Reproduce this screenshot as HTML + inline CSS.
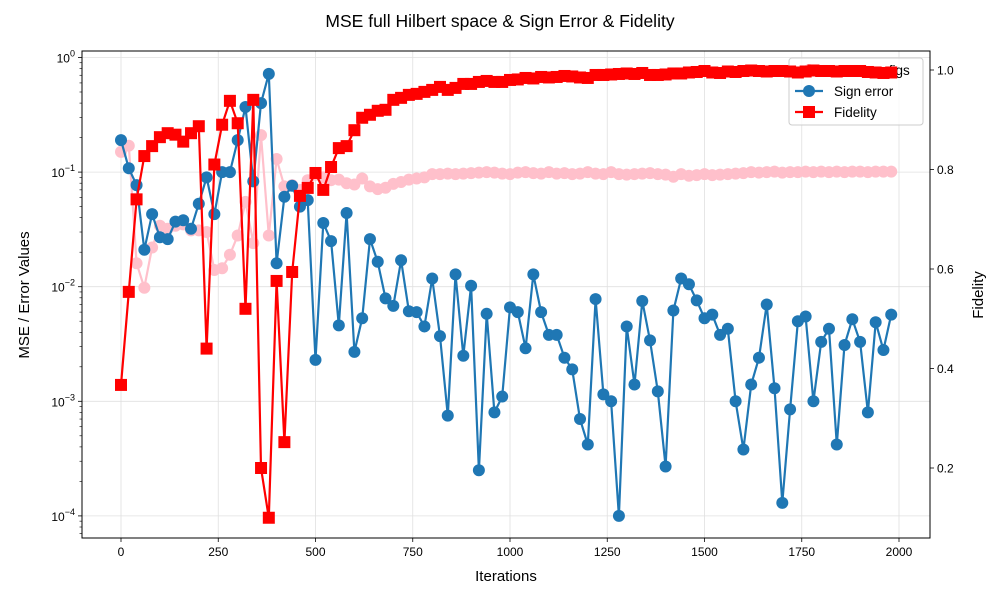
<!DOCTYPE html>
<html><head><meta charset="utf-8"><style>
body{margin:0;background:#fff;}
svg text{font-family:"Liberation Sans","DejaVu Sans",sans-serif;}
</style></head><body>
<svg id="chart" width="1000" height="600" xmlns="http://www.w3.org/2000/svg">
<rect width="1000" height="600" fill="#fff"/>
<text x="500" y="27" font-size="17.5" text-anchor="middle">MSE full Hilbert space &amp; Sign Error &amp; Fidelity</text>
<g id="grid"></g><g id="series"></g><g id="axes"></g>
<text x="506" y="581" font-size="15" text-anchor="middle">Iterations</text>
<text x="29" y="295" font-size="15" text-anchor="middle" transform="rotate(-90 29 295)">MSE / Error Values</text>
<text x="983" y="295" font-size="15" text-anchor="middle" transform="rotate(-90 983 295)">Fidelity</text>
</svg>
<script>
const iterations = Array.from({length:100},(_,i)=>i*20);
const signError = [0.19,0.108,0.077,0.021,0.043,0.027,0.026,0.037,0.038,0.032,0.053,0.09,0.043,0.10,0.10,0.19,0.37,0.083,0.40,0.72,0.016,0.061,0.076,0.05,0.057,0.0023,0.036,0.025,0.0046,0.044,0.0027,0.0053,0.026,0.0165,0.0079,0.0068,0.017,0.0061,0.006,0.0045,0.0118,0.0037,0.00075,0.0128,0.0025,0.0102,0.00025,0.0058,0.0008,0.0011,0.0066,0.006,0.0029,0.0128,0.006,0.0038,0.0038,0.0024,0.0019,0.0007,0.00042,0.0078,0.00115,0.001,0.0001,0.0045,0.0014,0.0075,0.0034,0.00122,0.00027,0.0062,0.0118,0.0105,0.0076,0.0053,0.0057,0.0038,0.0043,0.001,0.00038,0.0014,0.0024,0.007,0.0013,0.00013,0.00085,0.005,0.0055,0.001,0.0033,0.0043,0.00042,0.0031,0.0052,0.0033,0.0008,0.0049,0.0028,0.0057];
const mseConfigs = [0.15,0.17,0.016,0.0098,0.022,0.034,0.032,0.034,0.035,0.031,0.031,0.030,0.014,0.0145,0.019,0.028,0.055,0.024,0.21,0.028,0.13,0.075,0.077,0.07,0.085,0.095,0.09,0.085,0.086,0.08,0.078,0.088,0.075,0.071,0.073,0.079,0.082,0.086,0.088,0.09,0.096,0.096,0.097,0.096,0.097,0.098,0.099,0.1,0.099,0.097,0.096,0.099,0.1,0.098,0.097,0.1,0.097,0.098,0.096,0.097,0.1,0.097,0.096,0.1,0.096,0.095,0.096,0.097,0.098,0.096,0.095,0.091,0.096,0.093,0.094,0.096,0.094,0.095,0.096,0.097,0.098,0.1,0.099,0.1,0.101,0.099,0.1,0.1,0.101,0.1,0.101,0.1,0.101,0.1,0.101,0.101,0.1,0.101,0.101,0.101];
const fidelity = [0.367,0.554,0.74,0.827,0.847,0.865,0.873,0.87,0.856,0.873,0.887,0.44,0.81,0.89,0.938,0.893,0.52,0.94,0.2,0.10,0.576,0.252,0.594,0.747,0.763,0.793,0.759,0.805,0.843,0.847,0.879,0.904,0.91,0.918,0.92,0.94,0.944,0.95,0.952,0.956,0.96,0.966,0.96,0.964,0.972,0.972,0.976,0.978,0.976,0.976,0.98,0.981,0.984,0.983,0.986,0.985,0.986,0.988,0.987,0.985,0.984,0.99,0.99,0.991,0.992,0.993,0.992,0.994,0.99,0.99,0.991,0.993,0.993,0.995,0.996,0.998,0.995,0.994,0.997,0.996,0.998,0.999,0.998,0.997,0.998,0.998,0.997,0.995,0.997,0.999,0.998,0.998,0.997,0.998,0.998,0.998,0.996,0.995,0.994,0.995];
const xTicks = [0,250,500,750,1000,1250,1500,1750,2000];
const yExps = [0,-1,-2,-3,-4];
const fidTicks = [0.2,0.4,0.6,0.8,1.0];

const L=82,R=930,T=51,B=538;
const xs=v=>121+v*(899-121)/2000;
const ys=v=>57.5+(-Math.log10(v))*114.6;
const yf=v=>70+(1-v)*497.5;
const NS='http://www.w3.org/2000/svg';
function mk(tag,attrs,parent){const e=document.createElementNS(NS,tag);for(const k in attrs)e.setAttribute(k,attrs[k]);parent.appendChild(e);return e;}
const grid=document.getElementById('grid'),axes=document.getElementById('axes'),ser=document.getElementById('series');

xTicks.forEach(t=>{const x=xs(t);
 let g=mk('line',{x1:x,x2:x,y1:T,y2:B,stroke:'#e0e0e0','stroke-width':0.8},grid);
 
 let tk=mk('line',{x1:x,x2:x,y1:B,y2:B+4,stroke:'#000','stroke-width':0.8},axes);
 
 let tx=mk('text',{x:x,y:B+18,'font-size':12,'text-anchor':'middle'},axes);tx.textContent=t;
 
});
yExps.forEach(e=>{const y=ys(Math.pow(10,e));
 let g=mk('line',{x1:L,x2:R,y1:y,y2:y,stroke:'#e0e0e0','stroke-width':0.8},grid);
 
 let tk=mk('line',{x1:L-4,x2:L,y1:y,y2:y,stroke:'#000','stroke-width':0.8},axes);
 
 let tx=mk('text',{x:L-7,y:y+5,'font-size':12,'text-anchor':'end'},axes);
 
 tx.innerHTML='10<tspan dy="-6" font-size="9">'+(e<0?'\u2212'+(-e):e)+'</tspan>';
});
for(let e=-5;e<=0;e++)for(let m=2;m<=9;m++){const v=m*Math.pow(10,e),y=ys(v);if(y<T||y>B)continue;
 let tk=mk('line',{x1:L-2.5,x2:L,y1:y,y2:y,stroke:'#000','stroke-width':0.6},axes);
 }
fidTicks.forEach(t=>{const y=yf(t);
 let tk=mk('line',{x1:R,x2:R+4,y1:y,y2:y,stroke:'#000','stroke-width':0.8},axes);
 
 let tx=mk('text',{x:R+7,y:y+4.5,'font-size':12},axes);tx.textContent=t.toFixed(1);
 
});
let fr=mk('rect',{x:L,y:T,width:R-L,height:B-T,fill:'none',stroke:'#000','stroke-width':1},axes);


function line(vals,yfn,color,name){
 const pts=vals.map((v,i)=>xs(iterations[i]).toFixed(1)+','+yfn(v).toFixed(1)).join(' ');
 const g=mk('g',{},ser);
 const p=mk('polyline',{points:pts,fill:'none',stroke:color,'stroke-width':2.2,'stroke-linejoin':'round'},g);
 
 return g;
}
// MSE configs
let g1=line(mseConfigs,ys,'#ffc0cb','mse-configs-series');
mseConfigs.forEach((v,i)=>{let c=mk('circle',{cx:xs(iterations[i]),cy:ys(v),r:6,fill:'#ffc0cb'},g1);
 });
// Sign error
let g2=line(signError,ys,'#1f77b4','sign-error-series');
signError.forEach((v,i)=>{let c=mk('circle',{cx:xs(iterations[i]),cy:ys(v),r:6,fill:'#1f77b4'},g2);
 });
// Legend
const lg=mk('g',{},ser);
mk('rect',{x:789,y:58,width:134,height:67,rx:3,fill:'#fff','fill-opacity':0.8,stroke:'#ccc'},lg);
[['MSE configs','#ffc0cb','c'],['Sign error','#1f77b4','c'],['Fidelity','#f00','s']].forEach((d,i)=>{
 const y=70+i*21;
 const e=mk('g',{},lg);
 mk('line',{x1:795,x2:823,y1:y,y2:y,stroke:d[1],'stroke-width':2.2},e);
 if(d[2]=='c')mk('circle',{cx:809,cy:y,r:6,fill:d[1]},e);else mk('rect',{x:803,y:y-6,width:12,height:12,fill:d[1]},e);
 const t=mk('text',{x:834,y:y+5,'font-size':13.5},e);t.textContent=d[0];
});
// Fidelity
let g3=line(fidelity,yf,'#ff0000','fidelity-series');
fidelity.forEach((v,i)=>{let s=mk('rect',{x:xs(iterations[i])-6,y:yf(v)-6,width:12,height:12,fill:'#ff0000'},g3);
 });
</script>
</body></html>
